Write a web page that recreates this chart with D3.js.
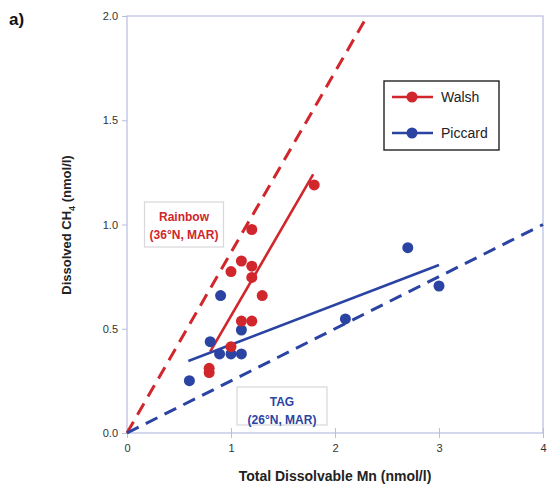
<!DOCTYPE html>
<html>
<head>
<meta charset="utf-8">
<script src="https://cdn.jsdelivr.net/npm/d3@7"></script>
<style>
  body { margin: 0; background: #fff; }
  text { font-family: "Liberation Sans", Arial, sans-serif; }
</style>
</head>
<body>
<div id="chart"></div>
<script>
// Walsh (red) samples: Mn, CH4
const walshMn  = [0.79, 0.79, 1.0, 1.0, 1.10, 1.20, 1.20, 1.30, 1.10, 1.20, 1.20, 1.80];
const walshCH4 = [0.31, 0.29, 0.414, 0.774, 0.825, 0.80, 0.746, 0.659, 0.537, 0.537, 0.976, 1.19];
// Piccard (blue) samples
const piccardMn  = [0.6, 0.80, 0.89, 1.0, 1.10, 1.10, 0.90, 2.1, 2.70, 3.0];
const piccardCH4 = [0.251, 0.438, 0.379, 0.379, 0.379, 0.494, 0.659, 0.547, 0.889, 0.705];
// fit lines (solid) and reference vent lines (dashed)
const walshFit   = [[0.8, 0.39], [1.79, 1.24]];
const piccardFit = [[0.59, 0.345], [3.0, 0.806]];
const rainbowRef = [[0, 0], [2.31, 2.0]];
const tagRef     = [[0, 0], [4, 1.0]];
const xTicks = [0, 1, 2, 3, 4];
const yTicks = [0, 0.5, 1.0, 1.5, 2.0];

const red = "#d0262c", blue = "#2b43a3", frame = "#b9bde0";

const width = 551, height = 493;

const svg = d3.select("#chart").append("svg")
    .attr("width", width)
    .attr("height", height);

const x = d3.scaleLinear().domain([0, 4]).range([127, 543]);
const y = d3.scaleLinear().domain([0, 2]).range([433, 16]);

// frame
svg.append("rect")
    .attr("x", x(0)).attr("y", y(2))
    .attr("width", x(4) - x(0)).attr("height", y(0) - y(2))
    .attr("fill", "none").attr("stroke", frame).attr("stroke-width", 1.2);

// axes
const xAxis = svg.append("g")
    .attr("transform", `translate(0, ${y(0)})`)
    .call(d3.axisBottom(x).tickValues(xTicks).tickFormat(d3.format("d")).tickSize(5).tickPadding(6));
const yAxis = svg.append("g")
    .attr("transform", `translate(${x(0)}, 0)`)
    .call(d3.axisLeft(y).tickValues(yTicks).tickFormat(d3.format(".1f")).tickSize(5).tickPadding(4));
[xAxis, yAxis].forEach(g => {
    g.select(".domain").remove();
    g.selectAll(".tick line").attr("stroke", frame);
    g.selectAll(".tick text")
        .attr("fill", "#333")
        .style("font-size", "11px")
        .style("font-family", "'Liberation Sans', Arial, sans-serif");
});
// inner tick marks on x axis
xAxis.selectAll(".tick").append("line")
    .attr("y1", 0).attr("y2", -5).attr("stroke", frame);

const line = d3.line().x(d => x(d[0])).y(d => y(d[1]));

const plot = svg.append("g");

// dashed reference lines
plot.append("path").datum(rainbowRef)
    .attr("d", line).attr("fill", "none")
    .attr("stroke", red).attr("stroke-width", 3)
    .attr("stroke-dasharray", "13,8");
plot.append("path").datum(tagRef)
    .attr("d", line).attr("fill", "none")
    .attr("stroke", blue).attr("stroke-width", 3)
    .attr("stroke-dasharray", "13,8");

// label boxes
function labelBox(cx, top, w, h, lines, color) {
    const g = svg.append("g");
    g.append("rect")
        .attr("x", cx - w / 2).attr("y", top)
        .attr("width", w).attr("height", h)
        .attr("fill", "#fff").attr("stroke", "#d8d8dc").attr("stroke-width", 1.2);
    lines.forEach((t, i) => {
        g.append("text")
            .attr("x", cx).attr("y", top + 19 + i * 18)
            .attr("text-anchor", "middle")
            .attr("fill", color)
            .style("font-size", "12px")
            .style("font-weight", "bold")
            .text(t);
    });
}
labelBox(184, 202, 79, 45, ["Rainbow", "(36°N, MAR)"], red);
labelBox(282, 387, 90, 38, ["TAG", "(26°N, MAR)"], blue);

// fitted solid lines
plot.append("path").datum(walshFit)
    .attr("d", line).attr("fill", "none")
    .attr("stroke", red).attr("stroke-width", 2.6);
plot.append("path").datum(piccardFit)
    .attr("d", line).attr("fill", "none")
    .attr("stroke", blue).attr("stroke-width", 2.6);

// points
plot.selectAll(".pic")
    .data(d3.zip(piccardMn, piccardCH4))
    .join("circle")
    .attr("cx", d => x(d[0])).attr("cy", d => y(d[1]))
    .attr("r", 5.5).attr("fill", blue);
plot.selectAll(".wal")
    .data(d3.zip(walshMn, walshCH4))
    .join("circle")
    .attr("cx", d => x(d[0])).attr("cy", d => y(d[1]))
    .attr("r", 5.5).attr("fill", red);

// legend
const legend = svg.append("g").attr("transform", "translate(384, 81)");
legend.append("rect")
    .attr("width", 115).attr("height", 69)
    .attr("fill", "#fff").attr("stroke", "#222").attr("stroke-width", 1.4);
[["Walsh", red, 16], ["Piccard", blue, 52]].forEach(([name, c, ly]) => {
    legend.append("line")
        .attr("x1", 8).attr("x2", 49).attr("y1", ly).attr("y2", ly)
        .attr("stroke", c).attr("stroke-width", 2.6);
    legend.append("circle").attr("cx", 28).attr("cy", ly).attr("r", 5.5).attr("fill", c);
    legend.append("text")
        .attr("x", 57).attr("y", ly + 5)
        .attr("fill", "#222")
        .style("font-size", "14px")
        .text(name);
});

// axis titles
svg.append("text")
    .attr("x", 335).attr("y", 481)
    .attr("text-anchor", "middle")
    .attr("fill", "#222")
    .style("font-size", "14px").style("font-weight", "bold")
    .text("Total Dissolvable Mn (nmol/l)");

const yTitle = svg.append("text")
    .attr("transform", `translate(71, 225) rotate(-90)`)
    .attr("text-anchor", "middle")
    .attr("fill", "#222")
    .style("font-size", "13px").style("font-weight", "bold");
yTitle.append("tspan").text("Dissolved CH");
yTitle.append("tspan").attr("dy", 4).style("font-size", "9px").text("4");
yTitle.append("tspan").attr("dy", -4).text(" (nmol/l)");

// panel label
svg.append("text")
    .attr("x", 9).attr("y", 25)
    .attr("fill", "#111")
    .style("font-size", "17px").style("font-weight", "bold")
    .text("a)");
</script>
</body>
</html>
